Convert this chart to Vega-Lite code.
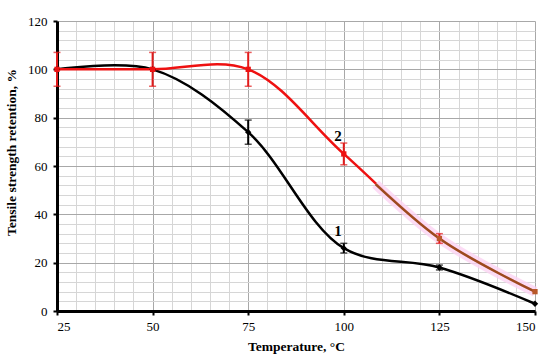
{
  "$schema": "https://vega.github.io/schema/vega-lite/v6.json",
  "width": 478,
  "height": 290,
  "autosize": {"type": "none"},
  "padding": {"left": 57, "top": 21, "right": 15, "bottom": 49},
  "background": "white",
  "config": {
    "view": {"stroke": null},
    "font": "Liberation Serif"
  },
  "datasets": {
    "pts": [
      {"series": "1", "temp": 25, "val": 100, "lo": null, "hi": null},
      {"series": "1", "temp": 50, "val": 100, "lo": null, "hi": null},
      {"series": "1", "temp": 75, "val": 74, "lo": 69, "hi": 79},
      {"series": "1", "temp": 100, "val": 26, "lo": 24, "hi": 28},
      {"series": "1", "temp": 125, "val": 18, "lo": 17, "hi": 19},
      {"series": "1", "temp": 150, "val": 3, "lo": null, "hi": null},
      {"series": "2", "temp": 25, "val": 100, "lo": 93, "hi": 107},
      {"series": "2", "temp": 50, "val": 100, "lo": 93, "hi": 107},
      {"series": "2", "temp": 75, "val": 100, "lo": 93, "hi": 107},
      {"series": "2", "temp": 100, "val": 65, "lo": 60.5, "hi": 69.5},
      {"series": "2", "temp": 125, "val": 30, "lo": 28, "hi": 32},
      {"series": "2", "temp": 150, "val": 8, "lo": null, "hi": null}
    ],
    "labels": [
      {"temp": 98.5, "val": 33, "txt": "1"},
      {"temp": 98.5, "val": 72.5, "txt": "2"}
    ]
  },
  "encoding": {
    "x": {
      "field": "temp", "type": "quantitative",
      "scale": {"domain": [25, 150], "nice": false, "zero": false},
      "axis": {
        "values": [25,30,35,40,45,50,55,60,65,70,75,80,85,90,95,100,105,110,115,120,125,130,135,140,145,150],
        "labelExpr": "datum.value % 25 === 0 ? datum.label : ''",
        "title": "Temperature, °C",
        "titleFont": "Liberation Serif", "titleFontSize": 13.5, "titleFontWeight": "bold", "titleColor": "black", "titlePadding": 6,
        "labelFont": "Liberation Serif", "labelFontSize": 13, "labelColor": "black", "labelPadding": 5,
        "grid": true,
        "gridColor": {"condition": {"test": "datum.value % 25 === 0", "value": "#a8a8a8"}, "value": "#d6d6d6"},
        "gridWidth": 1,
        "domainColor": "black", "domainWidth": 3,
        "tickColor": "black", "tickWidth": 2, "tickSize": 4,
        "tickOpacity": {"condition": {"test": "datum.value % 25 === 0", "value": 1}, "value": 0}
      }
    },
    "y": {
      "field": "val", "type": "quantitative",
      "scale": {"domain": [0, 120], "nice": false},
      "axis": {
        "values": [0,4,8,12,16,20,24,28,32,36,40,44,48,52,56,60,64,68,72,76,80,84,88,92,96,100,104,108,112,116,120],
        "labelExpr": "datum.value % 20 === 0 ? datum.label : ''",
        "title": "Tensile strength retention, %",
        "titleFont": "Liberation Serif", "titleFontSize": 13.5, "titleFontWeight": "bold", "titleColor": "black", "titlePadding": 9,
        "titleY": 131,
        "labelFont": "Liberation Serif", "labelFontSize": 13, "labelColor": "black", "labelPadding": 6,
        "grid": true,
        "gridColor": {"condition": {"test": "datum.value % 20 === 0", "value": "#a8a8a8"}, "value": "#d6d6d6"},
        "gridWidth": 1,
        "domainColor": "black", "domainWidth": 3,
        "tickColor": "black", "tickWidth": 2, "tickSize": 4,
        "tickOpacity": {"condition": {"test": "datum.value % 20 === 0", "value": 1}, "value": 0}
      }
    }
  },
  "layer": [
    {
      "data": {"name": "pts"},
      "transform": [{"filter": "datum.series === '1'"}],
      "mark": {"type": "line", "interpolate": "catmull-rom", "color": "black", "strokeWidth": 2.5}
    },
    {
      "data": {"name": "pts"},
      "transform": [{"filter": "datum.series === '2'"}],
      "mark": {"type": "line", "interpolate": "catmull-rom", "color": "#ee1111", "strokeWidth": 2.5}
    },
    {
      "data": {"name": "pts"},
      "transform": [{"filter": "datum.series === '2' && datum.temp >= 100"}],
      "mark": {"type": "line", "interpolate": "catmull-rom", "color": "#fbd3f2", "strokeWidth": 10, "opacity": 0.8, "strokeDash": [0, 44, 2000]}
    },
    {
      "data": {"name": "pts"},
      "transform": [{"filter": "datum.series === '2' && datum.temp >= 100"}],
      "mark": {"type": "line", "interpolate": "catmull-rom", "color": "#9c4a1e", "strokeWidth": 2.5, "strokeDash": [0, 44, 2000]}
    },
    {
      "data": {"name": "pts"},
      "transform": [{"filter": "datum.lo !== null"}],
      "mark": {"type": "rule", "strokeWidth": 2},
      "encoding": {
        "y": {"field": "lo", "type": "quantitative"},
        "y2": {"field": "hi"},
        "color": {"condition": {"test": "datum.series === '1'", "value": "black"}, "value": "#e21a1a"}
      }
    },
    {
      "data": {"name": "pts"},
      "transform": [{"filter": "datum.lo !== null"}],
      "mark": {"type": "tick", "orient": "horizontal", "size": 7, "thickness": 1.5},
      "encoding": {
        "y": {"field": "lo", "type": "quantitative"},
        "color": {"condition": {"test": "datum.series === '1'", "value": "black"}, "value": "#e21a1a"}
      }
    },
    {
      "data": {"name": "pts"},
      "transform": [{"filter": "datum.lo !== null"}],
      "mark": {"type": "tick", "orient": "horizontal", "size": 7, "thickness": 1.5},
      "encoding": {
        "y": {"field": "hi", "type": "quantitative"},
        "color": {"condition": {"test": "datum.series === '1'", "value": "black"}, "value": "#e21a1a"}
      }
    },
    {
      "data": {"name": "pts"},
      "transform": [{"filter": "datum.series === '1'"}],
      "mark": {"type": "point", "shape": "diamond", "filled": true, "size": 40, "color": "black", "opacity": 1}
    },
    {
      "data": {"name": "pts"},
      "transform": [{"filter": "datum.series === '2'"}],
      "mark": {"type": "point", "shape": "square", "filled": true, "size": 28, "opacity": 1},
      "encoding": {
        "color": {"condition": {"test": "datum.temp >= 125", "value": "#b8582a"}, "value": "#ee1111"}
      }
    },
    {
      "data": {"name": "labels"},
      "mark": {"type": "text", "font": "Liberation Serif", "fontSize": 15, "fontWeight": "bold", "color": "black"},
      "encoding": {"text": {"field": "txt"}}
    }
  ]
}
